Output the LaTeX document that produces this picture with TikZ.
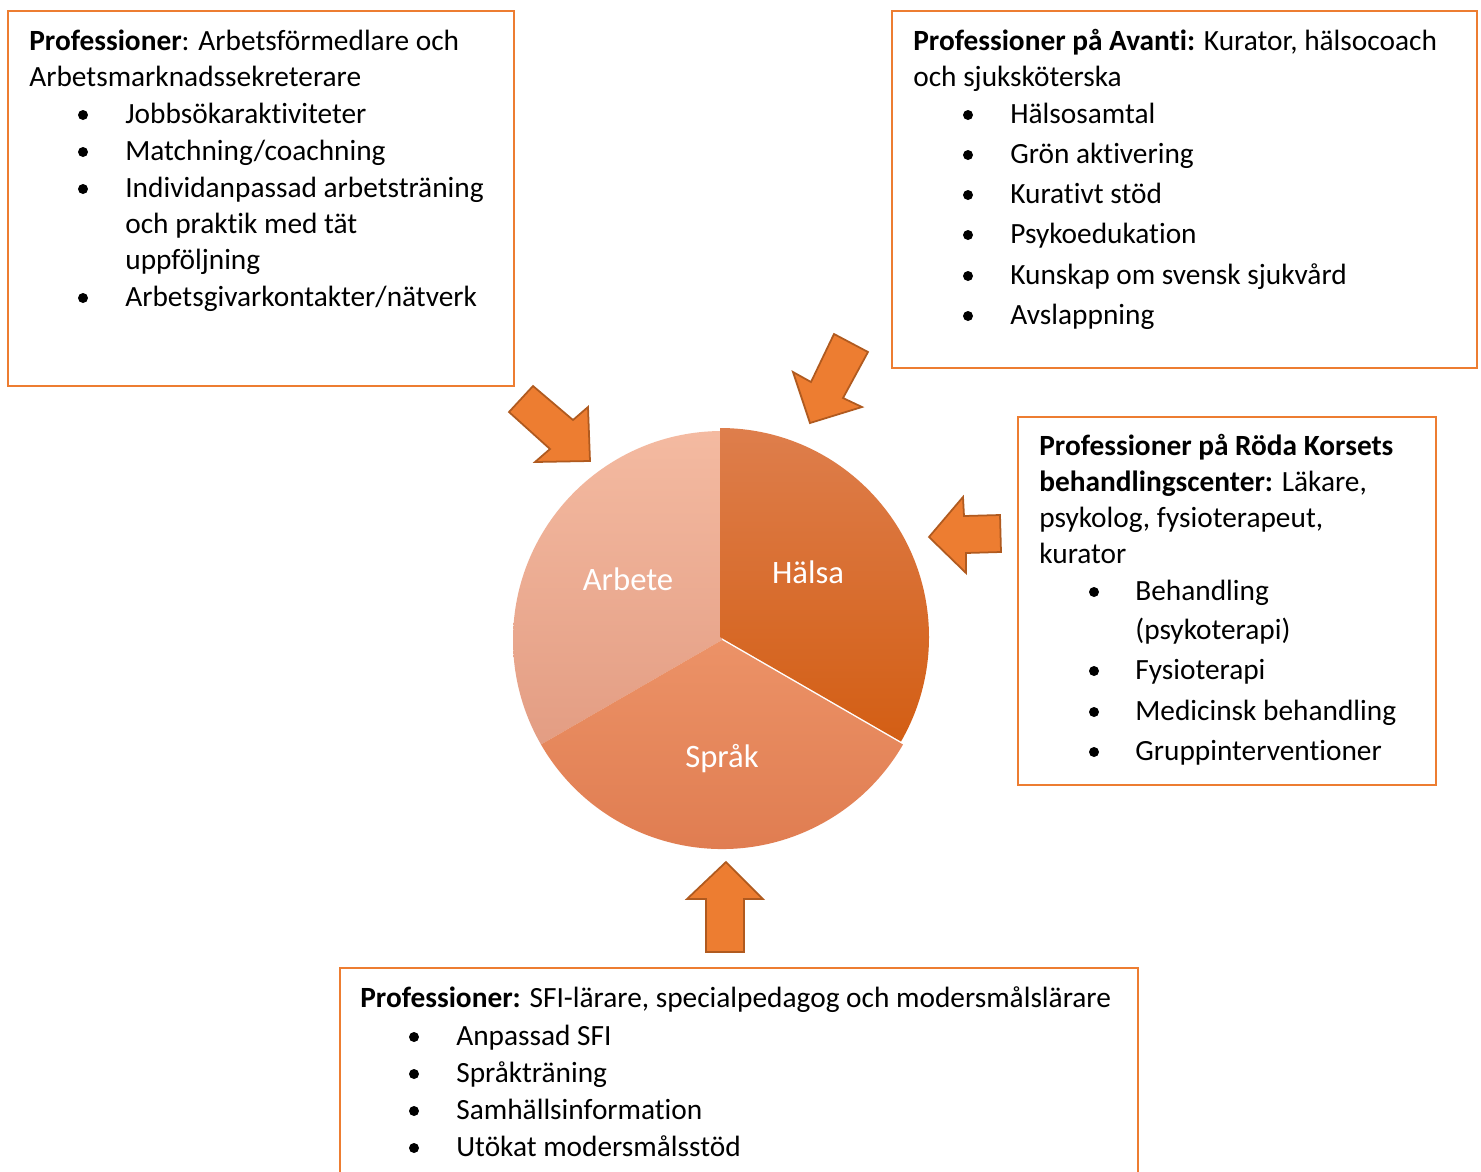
\documentclass[tikz,border=0pt]{standalone}
\usepackage{fontspec}
\setmainfont{Carlito}[Ligatures=NoCommon]
\definecolor{acc}{HTML}{ED7D31}
\definecolor{accdark}{HTML}{B05A1F}
\definecolor{arbTop}{HTML}{F4BAA1}
\definecolor{arbBot}{HTML}{E39D83}
\definecolor{halTop}{HTML}{DE7E4C}
\definecolor{halBot}{HTML}{D35E14}
\definecolor{sprTop}{HTML}{EC9267}
\definecolor{sprBot}{HTML}{DE7A4E}
\newcommand\txtline[4]{\node[txt] (#1) at (#2,#3) {#4};}
\newcommand\bulline[5]{\node[dot] (#1d) at (#2,#4-8) {};\node[txt] (#1) at (#3,#4) {#5};}
\begin{document}
\begin{tikzpicture}[x=0.02cm,y=-0.02cm,
  txt/.style={anchor=base west, inner sep=0pt, font=\fontsize{16.7}{20}\selectfont},
  dot/.style={circle, fill=black, inner sep=0pt, minimum size=0.2cm},
  box/.style={draw=acc, line width=1.3pt},
  blockarrow/.style={fill=acc, draw=accdark, line width=1pt, line join=miter},
  lbl/.style={text=white, anchor=base, inner sep=0pt, font=\fontsize{18.6}{22}\selectfont}]
\useasboundingbox[fill=white] (0,0) rectangle (1481,1171);

% boxes
\draw[box] (8,11) rectangle (514,386);
\draw[box] (892,11) rectangle (1477,368);
\draw[box] (1018,417) rectangle (1436,785);
\draw[box] (340,1180) -- (340,968) -- (1138,968) -- (1138,1180);

% box 1
\txtline{a1}{29}{50}{\textbf{Professioner}: Arbetsförmedlare och}
\txtline{a2}{29}{86}{Arbetsmarknadssekreterare}
\bulline{a3}{83}{125}{123}{Jobbsökaraktiviteter}
\bulline{a4}{83}{125}{160}{Matchning/coachning}
\bulline{a5}{83}{125}{197}{Individanpassad arbetsträning}
\txtline{a6}{125}{233}{och praktik med tät}
\txtline{a7}{125}{269}{uppföljning}
\bulline{a8}{83}{125}{306}{Arbetsgivarkontakter/nätverk}

% box 2
\txtline{b1}{913}{50}{\textbf{Professioner på Avanti:} Kurator, hälsocoach}
\txtline{b2}{913}{86}{och sjuksköterska}
\bulline{b3}{968}{1010}{123}{Hälsosamtal}
\bulline{b4}{968}{1010}{163}{Grön aktivering}
\bulline{b5}{968}{1010}{203}{Kurativt stöd}
\bulline{b6}{968}{1010}{243}{Psykoedukation}
\bulline{b7}{968}{1010}{284}{Kunskap om svensk sjukvård}
\bulline{b8}{968}{1010}{324}{Avslappning}

% box 3
\txtline{c1}{1039}{455}{\textbf{Professioner på Röda Korsets}}
\txtline{c2}{1039}{491}{\textbf{behandlingscenter:} Läkare,}
\txtline{c3}{1039}{527}{psykolog, fysioterapeut,}
\txtline{c4}{1039}{563}{kurator}
\bulline{c5}{1094}{1135}{600}{Behandling}
\txtline{c6}{1135}{639}{(psykoterapi)}
\bulline{c7}{1094}{1135}{679}{Fysioterapi}
\bulline{c8}{1094}{1135}{720}{Medicinsk behandling}
\bulline{c9}{1094}{1135}{760}{Gruppinterventioner}

% box 4
\txtline{d1}{360}{1007}{\textbf{Professioner:} SFI-lärare, specialpedagog och modersmålslärare}
\bulline{d2}{414}{456}{1045}{Anpassad SFI}
\bulline{d3}{414}{456}{1082}{Språkträning}
\bulline{d4}{414}{456}{1119}{Samhällsinformation}
\bulline{d5}{414}{456}{1156}{Utökat modersmålsstöd}

% pie
\shade[top color=arbTop, bottom color=arbBot]
  (722,640) -- ([shift={(722,640)}]-90:209) arc[start angle=-90, end angle=-210, radius=209] -- cycle;
\shade[top color=sprTop, bottom color=sprBot]
  (722,640) -- ([shift={(722,640)}]-210:209) arc[start angle=-210, end angle=-330, radius=209] -- cycle;
\shade[top color=halTop, bottom color=halBot]
  (720,637) -- ([shift={(720,637)}]-90:209) arc[start angle=-90, end angle=30, radius=209] -- cycle;
\node[lbl] (arbete) at (628,590) {Arbete};
\node[lbl] (halsa) at (808,583) {Hälsa};
\node[lbl] (sprak) at (722,767) {Språk};

% block arrows
\draw[blockarrow] (509,412) -- (533,386) -- (573,420) -- (588,407) -- (590,461) -- (535,462) -- (550,449) -- cycle;
\draw[blockarrow] (834,334) -- (868,352) -- (843,398) -- (862,407) -- (810,423) -- (793,372) -- (811,382) -- cycle;
\draw[blockarrow] (929,537) -- (963,497) -- (964,516) -- (1000,515) -- (1001,552) -- (966,553) -- (966,573) -- cycle;
\draw[blockarrow] (726,862) -- (763,899) -- (744,899) -- (744,952) -- (706,952) -- (706,899) -- (687,899) -- cycle;
\end{tikzpicture}
\end{document}
